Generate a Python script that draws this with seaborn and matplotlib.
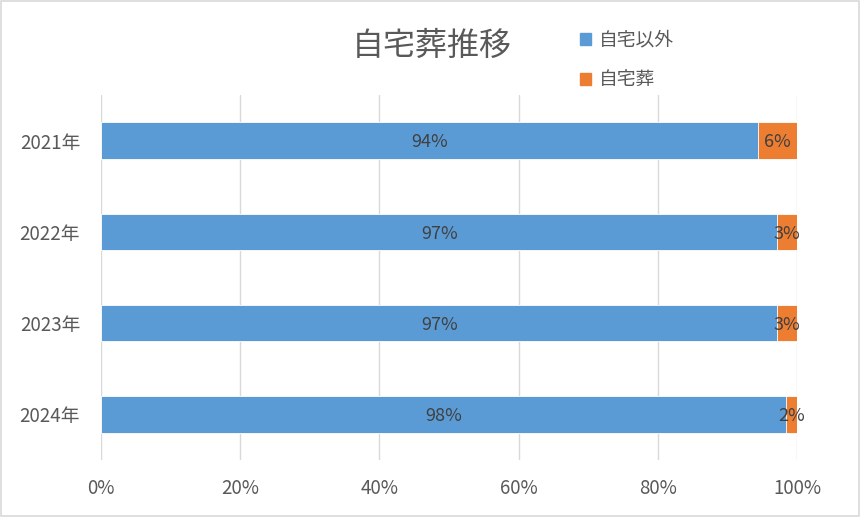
import numpy as np
import pandas as pd
import seaborn as sns
import matplotlib.pyplot as plt
from matplotlib.patches import Patch

years = ['2021年', '2022年', '2023年', '2024年']
other = [94.4, 97.2, 97.2, 98.4]     # 自宅以外
home = [5.6, 2.8, 2.8, 1.6]          # 自宅葬

blue = '#5B9BD5'
orange = '#ED7D31'

sns.set_theme(style='white')
plt.rcParams['font.family'] = ['Noto Sans CJK JP', 'DejaVu Sans']

df = pd.DataFrame({'年': years, '自宅以外': other, '自宅葬': home})
df['合計'] = df['自宅以外'] + df['自宅葬']

fig = plt.figure(figsize=(8.6, 5.17), dpi=100)
ax = fig.add_axes([0.1174, 0.1103, 0.8093, 0.7059])

# stacked: total first (orange), blue on top
sns.barplot(data=df, x='合計', y='年', color=orange, width=0.4,
            saturation=1, ax=ax, edgecolor='white', linewidth=0.6)
sns.barplot(data=df, x='自宅以外', y='年', color=blue, width=0.4,
            saturation=1, ax=ax, edgecolor='white', linewidth=0.6)

for i, row in df.iterrows():
    ax.text(row['自宅以外'] / 2, i + 0.02, f"{row['自宅以外']:.0f}%", ha='center', va='center',
            fontsize=13, color='#404040')
    ax.text(row['自宅以外'] + row['自宅葬'] / 2, i + 0.02, f"{row['自宅葬']:.0f}%", ha='center',
            va='center', fontsize=13, color='#404040')

ax.set_xlim(0, 100)
ax.set_ylim(3.5, -0.5)
ax.set_xticks(np.arange(0, 101, 20))
ax.set_xticklabels([f'{v}%' for v in range(0, 101, 20)])
ax.xaxis.grid(True, color='#D9D9D9', linewidth=1)
ax.set_axisbelow(True)
ax.set_xlabel('')
ax.set_ylabel('')
for s in ax.spines.values():
    s.set_visible(False)
ax.tick_params(axis='both', length=0, labelsize=13.5, colors='#595959')
ax.tick_params(axis='x', pad=13)
ax.tick_params(axis='y', pad=15)

fig.text(0.502, 0.912, '自宅葬推移', ha='center', va='center', fontsize=23, color='#595959')

handles = [Patch(color=blue, label='自宅以外'), Patch(color=orange, label='自宅葬')]
leg = fig.legend(handles=handles, loc='upper left', bbox_to_anchor=(0.655, 0.975),
                 frameon=False, fontsize=13.5, handlelength=0.6, handleheight=0.6,
                 handletextpad=0.4, labelspacing=1.0, labelcolor='#595959')

fig.patches.append(plt.Rectangle((0.001, 0.001), 0.998, 0.997, transform=fig.transFigure,
                                 fill=False, edgecolor='#D9D9D9', linewidth=1.2))

fig.savefig('out.png', dpi=100)
